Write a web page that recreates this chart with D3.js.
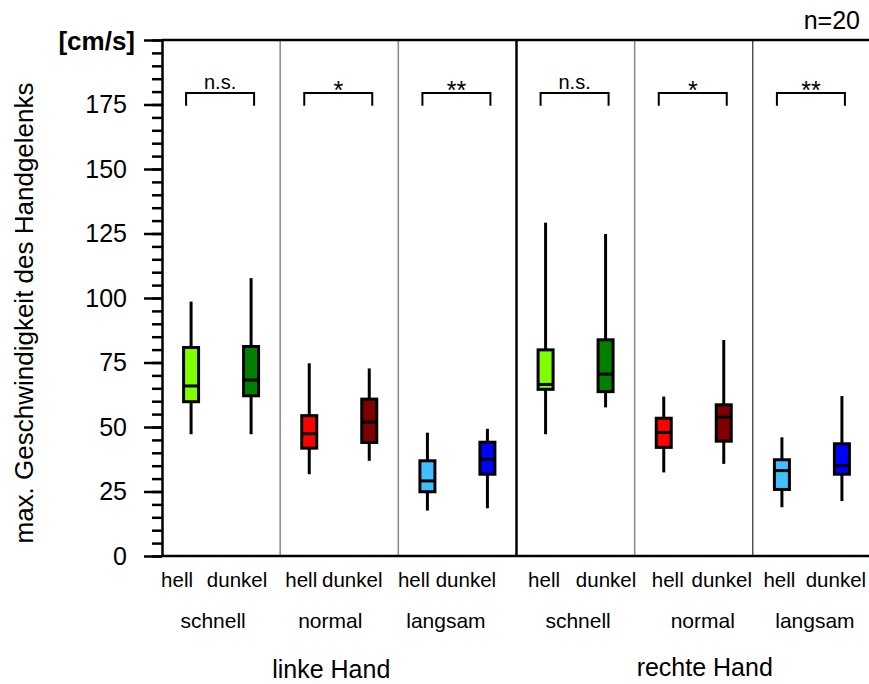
<!DOCTYPE html>
<html><head><meta charset="utf-8">
<script src="https://cdn.jsdelivr.net/npm/d3@7"></script>
<style>
body{margin:0;background:#fff}
svg{display:block;font-family:"Liberation Sans",Arial,Helvetica,sans-serif}
</style>
</head><body>
<svg id="chart" width="869" height="684"></svg>
<script>
// ---------- data ----------
const hands = ["linke Hand", "rechte Hand"];
const speeds = ["schnell", "normal", "langsam"];
const conditions = ["hell", "dunkel"];
const panels = ["L-schnell", "L-normal", "L-langsam", "R-schnell", "R-normal", "R-langsam"];
const significance = ["n.s.", "*", "**", "n.s.", "*", "**"];
// per box, order: panel1 hell, panel1 dunkel, panel2 hell, ...
const whiskerHigh = [98.6, 107.7, 74.7, 72.7, 47.8, 49.3, 129.2, 124.8, 61.8, 83.7, 46.0, 62.0];
const q3 =          [80.8, 81.2, 54.4, 60.8, 36.9, 44.1, 79.9, 83.8, 53.4, 58.6, 37.3, 43.5];
const median =      [65.9, 68.2, 47.4, 51.9, 29.1, 37.5, 66.5, 70.5, 47.9, 53.8, 33.1, 35.0];
const q1 =          [59.8, 62.1, 41.8, 44.0, 24.9, 31.7, 64.6, 63.7, 42.1, 44.5, 25.8, 31.7];
const whiskerLow =  [47.2, 47.2, 31.7, 36.9, 17.6, 18.5, 47.2, 57.6, 32.4, 35.7, 18.9, 21.3];
const boxColors = ["#80ff00", "#008000", "#ff0000", "#800000", "#40c0ff", "#0000ff"];
const yTicks = [0, 25, 50, 75, 100, 125, 150, 175, 200];
const yMinorTicks = d3.range(0, 201, 5);
const yTitle = "max. Geschwindigkeit des Handgelenks";
const yUnit = "[cm/s]";
const nLabel = "n=20";

// ---------- layout (not data) ----------
const condLabelOffset = [[-44, 16], [-38, 13], [-43.5, 8.5], [-31.5, 30.5], [-26, 28], [-32.5, 24]];
const speedLabelOffset = [-8, -9, -11.5, 2.5, 9, 3];
const handLabelOffset = [-8, 11];
const dividerStyle = [null, {c: "#888", w: 1.5}, {c: "#888", w: 1.5}, {c: "#000", w: 2.5}, {c: "#888", w: 1.5}, {c: "#000", w: 1}];

const boxes = [];
panels.forEach((p, i) => conditions.forEach((c, j) => {
  const k = i * 2 + j;
  boxes.push({panel: p, cond: c, lo: whiskerLow[k], q1: q1[k], med: median[k], q3: q3[k], hi: whiskerHigh[k], color: boxColors[i % 3 * 2 + j]});
}));

const svg = d3.select("#chart");
const y = d3.scaleLinear().domain([0, 200]).range([556, 40]);
const x = d3.scaleBand().domain(panels).range([162, 871]);
const xc = d3.scalePoint().domain(conditions).range([-30, 30]);
const pc = p => x(p) + x.bandwidth() / 2;

// dividers
panels.forEach((p, i) => {
  if (!dividerStyle[i]) return;
  svg.append("line").attr("x1", x(p)).attr("x2", x(p)).attr("y1", y(200)).attr("y2", y(0))
    .attr("stroke", dividerStyle[i].c).attr("stroke-width", dividerStyle[i].w);
});

// minor ticks
const minor = svg.append("g").attr("transform", "translate(162,0)")
  .call(d3.axisLeft(y).tickValues(yMinorTicks).tickSize(10).tickSizeOuter(0).tickFormat(""));
minor.select(".domain").remove();
minor.selectAll("line").attr("stroke", "#000").attr("stroke-width", 2.5);

// major axis
const ax = svg.append("g").attr("transform", "translate(162,0)")
  .call(d3.axisLeft(y).tickValues(yTicks).tickSize(18).tickSizeOuter(0).tickPadding(17)
    .tickFormat(d => d === 200 ? "" : d));
ax.select(".domain").attr("stroke", "#000").attr("stroke-width", 2.5);
ax.selectAll("line").attr("stroke", "#000").attr("stroke-width", 2.5);
ax.selectAll("text").attr("font-size", 25).attr("fill", "#000").attr("font-family", "Liberation Sans, Arial, sans-serif");

// top & bottom lines
[200, 0].forEach(v => svg.append("line").attr("x1", 162).attr("x2", 869).attr("y1", y(v)).attr("y2", y(v))
  .attr("stroke", "#000").attr("stroke-width", 2.5));

// unit label
svg.append("text").attr("x", 135).attr("y", y(200) + 10).attr("text-anchor", "end")
  .attr("font-size", 26).attr("font-weight", "bold").text(yUnit);
// n label
svg.append("text").attr("x", 860).attr("y", 29).attr("text-anchor", "end").attr("font-size", 25).text(nLabel);
// y title
svg.append("text").attr("transform", "translate(33,313) rotate(-90)").attr("text-anchor", "middle")
  .attr("font-size", 26).text(yTitle);

// boxes
const bw = 15;
const g = svg.selectAll("g.box").data(boxes).join("g").attr("class", "box")
  .attr("transform", d => `translate(${pc(d.panel) + xc(d.cond)},0)`);
g.append("line").attr("x1", 0).attr("x2", 0).attr("y1", d => y(d.hi)).attr("y2", d => y(d.lo))
  .attr("stroke", "#000").attr("stroke-width", 3);
g.append("rect").attr("x", -bw / 2).attr("width", bw).attr("y", d => y(d.q3)).attr("height", d => y(d.q1) - y(d.q3))
  .attr("fill", d => d.color).attr("stroke", "#000").attr("stroke-width", 3);
g.append("line").attr("x1", -bw / 2).attr("x2", bw / 2).attr("y1", d => y(d.med)).attr("y2", d => y(d.med))
  .attr("stroke", "#000").attr("stroke-width", 3);

// significance brackets
panels.forEach((p, i) => {
  const c = pc(p), yt = y(179.5), yb = y(174.5);
  svg.append("path").attr("d", `M${c - 35},${yb}V${yt}H${c + 33}V${yb}`)
    .attr("fill", "none").attr("stroke", "#000").attr("stroke-width", 2);
  const star = significance[i] !== "n.s.";
  svg.append("text").attr("x", c - 1).attr("y", star ? yt + 6 : yt - 4).attr("text-anchor", "middle")
    .attr("font-size", star ? 25 : 20).text(significance[i]);
});

// category labels
panels.forEach((p, i) => {
  conditions.forEach((c, j) => {
    svg.append("text").attr("x", pc(p) + condLabelOffset[i][j]).attr("y", 587).attr("text-anchor", "middle")
      .attr("font-size", 20.5).text(c);
  });
  svg.append("text").attr("x", pc(p) + speedLabelOffset[i]).attr("y", 628).attr("text-anchor", "middle")
    .attr("font-size", 21).text(speeds[i % 3]);
});
hands.forEach((h, i) => {
  const mid = (x(panels[i * 3]) + x(panels[i * 3 + 2]) + x.bandwidth()) / 2;
  svg.append("text").attr("x", mid + handLabelOffset[i]).attr("y", i === 0 ? 678 : 676).attr("text-anchor", "middle")
    .attr("font-size", 25).text(h);
});
</script>
</body></html>
